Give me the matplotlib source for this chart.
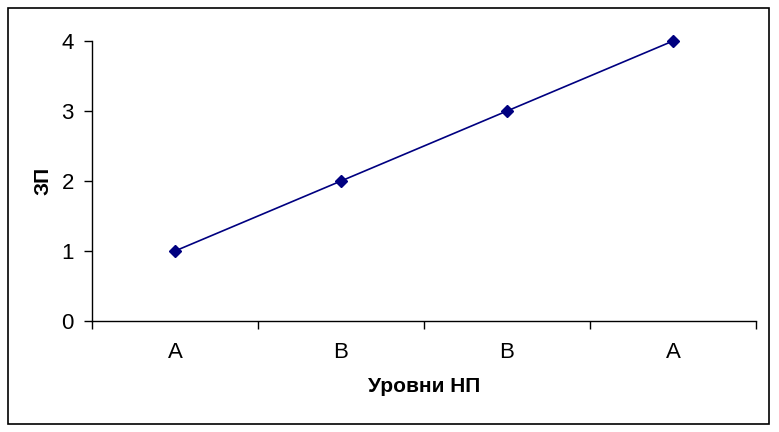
import matplotlib
matplotlib.use("Agg")
import matplotlib.pyplot as plt
from matplotlib.patches import Rectangle

categories = ["А", "В", "В", "А"]
values = [1, 2, 3, 4]
y_ticks = [0, 1, 2, 3, 4]

plt.rcParams['font.family'] = ['Liberation Sans', 'DejaVu Sans']

W, H = 779, 432
fig = plt.figure(figsize=(W/100, H/100), dpi=100)
fig.patch.set_facecolor('white')
fig.add_artist(Rectangle((8/W, 1 - 424/H), (769-8)/W, (424-8)/H, transform=fig.transFigure,
                         fill=False, edgecolor='black', linewidth=1.2))

ax = fig.add_axes([92/W, 1 - 321/H, (756-92)/W, (321-41)/H])
x = list(range(len(categories)))
ax.plot(x, values, color='#000080', linewidth=1.2, marker='D', markersize=6.5,
        markerfacecolor='#000080', markeredgecolor='#000080', clip_on=False)

ax.set_xlim(-0.5, len(categories) - 0.5)
ax.set_ylim(0, 4)
ax.set_yticks(y_ticks)
ax.set_xticks([i - 0.5 for i in range(len(categories) + 1)])
ax.set_xticklabels([])
ax.set_xticks(x, minor=True)
ax.set_xticklabels(categories, minor=True, fontsize=16)
ax.tick_params(axis='x', which='major', direction='out', length=6, width=1)
ax.tick_params(axis='x', which='minor', length=0, pad=15)
ax.tick_params(axis='y', direction='out', length=6, width=1, labelsize=16, pad=7)
for s in ['top', 'right']:
    ax.spines[s].set_visible(False)
for s in ['left', 'bottom']:
    ax.spines[s].set_linewidth(1)

ax.set_xlabel("Уровни НП", fontsize=15, fontweight='bold')
ax.set_ylabel("ЗП", fontsize=15, fontweight='bold')
ax.yaxis.set_label_coords((43 - 92) / (756 - 92), (321 - 181) / (321 - 41))
ax.xaxis.set_label_coords((424 - 92) / (756 - 92), -(386 - 321) / (321 - 41))
ax.xaxis.label.set_va('center')
ax.yaxis.label.set_va('center')

fig.savefig("out.png", dpi=100)
